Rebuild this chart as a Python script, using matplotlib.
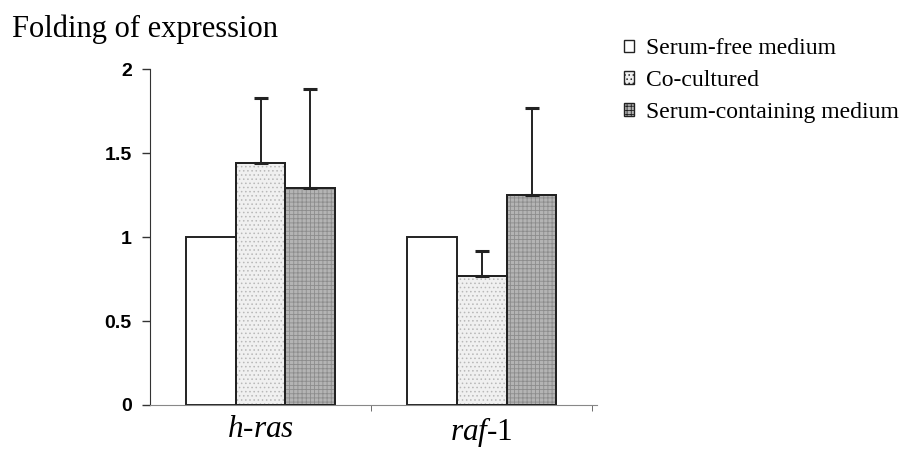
import matplotlib
matplotlib.use("Agg")
import matplotlib.pyplot as plt
from matplotlib.patches import Patch
import numpy as np

plt.rcParams['mathtext.fontset'] = 'custom'
plt.rcParams['mathtext.rm'] = 'Liberation Serif'
plt.rcParams['mathtext.it'] = 'Liberation Serif:italic'
plt.rcParams['hatch.linewidth'] = 0.6

categories = [r'$\mathit{h}$-$\mathit{ras}$', r'$\mathit{raf}$-1']
series = ['Serum-free medium', 'Co-cultured', 'Serum-containing medium']
values = {
    'Serum-free medium': [1.0, 1.0],
    'Co-cultured': [1.44, 0.77],
    'Serum-containing medium': [1.29, 1.25],
}
errors = {
    'Serum-free medium': [0.0, 0.0],
    'Co-cultured': [0.39, 0.15],
    'Serum-containing medium': [0.59, 0.52],
}
yticks = [0, 0.5, 1, 1.5, 2]
ytick_labels = ['0', '0.5', '1', '1.5', '2']

styles = {
    'Serum-free medium': dict(facecolor='white', hatch=None, hcolor='black'),
    'Co-cultured': dict(facecolor='#f0f0f0', hatch='....', hcolor='#b8b8b8'),
    'Serum-containing medium': dict(facecolor='#b4b4b4', hatch='++++', hcolor='#8c8c8c'),
}

fig = plt.figure(figsize=(9.14, 4.49), dpi=100)
ax = fig.add_axes([0.164, 0.098, 0.489, 0.748])

x = np.arange(len(categories))
w = 0.225
for i, s in enumerate(series):
    pos = x + (i - 1) * w
    st = styles[s]
    ax.bar(pos, values[s], width=w, facecolor=st['facecolor'],
           edgecolor='#222222', linewidth=1.4, label=s, zorder=2)
    if st['hatch']:
        ax.bar(pos, values[s], width=w, facecolor='none', edgecolor=st['hcolor'],
               hatch=st['hatch'], linewidth=0, zorder=2.5)
        ax.bar(pos, values[s], width=w, facecolor='none',
               edgecolor='#222222', linewidth=1.4, zorder=3)
    for p, v, e in zip(pos, values[s], errors[s]):
        if e > 0:
            ax.errorbar(p, v, yerr=[[0], [e]], fmt='none', ecolor='#222222',
                        elinewidth=1.4, capsize=5, capthick=2.2, zorder=4)

ax.set_xlim(-0.5, 1.52)
ax.set_ylim(0, 2)
ax.set_yticks(yticks)
ax.set_yticklabels(ytick_labels, fontfamily='Liberation Sans', fontweight='bold', fontsize=14)
ax.set_xticks(x)
ax.set_xticklabels(categories, fontsize=22.5, fontfamily='Liberation Serif')
ax.tick_params(axis='x', length=0, pad=7)
ax.set_xticks([0.5, 1.5], minor=True)
ax.tick_params(axis='x', which='minor', length=4, color='#555555')
ax.tick_params(axis='y', length=6, width=1, color='#333333', pad=7)
ax.spines['top'].set_visible(False)
ax.spines['right'].set_visible(False)
ax.spines['left'].set_color('#333333')
ax.spines['bottom'].set_color('#888888')
ax.spines['bottom'].set_linewidth(0.8)

fig.text(0.013, 0.935, 'Folding of expression', fontsize=22,
         fontfamily='Liberation Serif', va='center', ha='left')

handles = [Patch(facecolor=styles[s]['facecolor'], edgecolor='#222222',
                 hatch=styles[s]['hatch'], linewidth=1.0) for s in series]
leg = fig.legend(handles, series, loc='upper left', bbox_to_anchor=(0.683, 0.915),
                 frameon=False, prop={'family': 'Liberation Serif', 'size': 17},
                 handlelength=0.42, handleheight=0.42, handletextpad=0.5,
                 labelspacing=0.46, borderpad=0, borderaxespad=0)

fig.savefig('out.png', dpi=100, facecolor='white')
